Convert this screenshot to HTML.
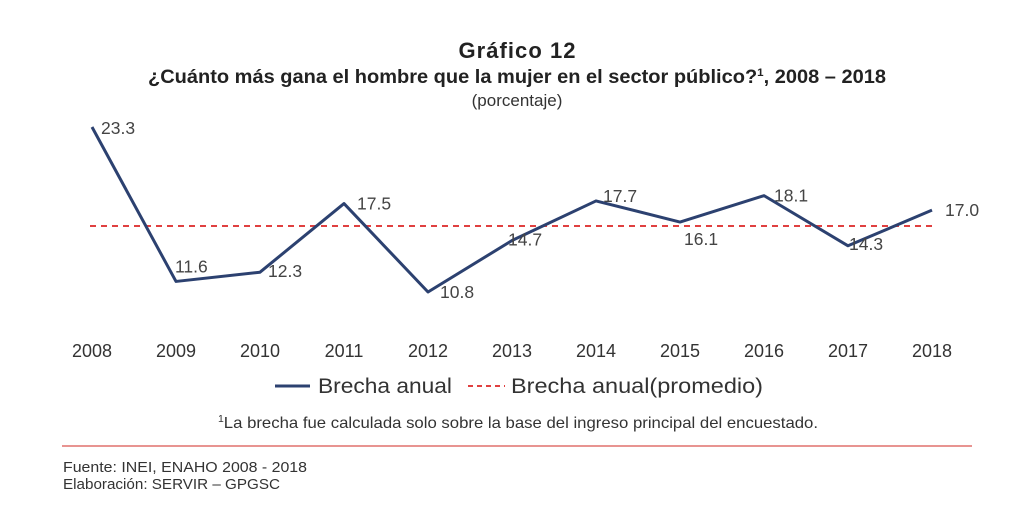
<!DOCTYPE html>
<html><head><meta charset="utf-8"><style>
body{margin:0;background:#fff;width:1034px;height:509px;overflow:hidden;font-family:"Liberation Sans",sans-serif;}
</style></head><body>
<svg width="1034" height="509" viewBox="0 0 1034 509" id="svg">
<text x="517" y="58" text-anchor="middle" font-size="22" font-weight="bold" fill="#222" textLength="117">Gráfico 12</text>
<text x="148" y="83" font-size="19" font-weight="bold" fill="#222" textLength="738" lengthAdjust="spacingAndGlyphs">¿Cuánto más gana el hombre que la mujer en el sector público?<tspan font-size="11" dy="-7">1</tspan><tspan dy="7">, 2008 – 2018</tspan></text>
<text x="517" y="106" text-anchor="middle" font-size="17" fill="#333">(porcentaje)</text>
<g id="marks"></g>
<line x1="275" y1="386" x2="310" y2="386" stroke="#2c4170" stroke-width="3"/>
<text x="318" y="393" font-size="21" fill="#333" textLength="134" lengthAdjust="spacingAndGlyphs">Brecha anual</text>
<line x1="468" y1="386" x2="505" y2="386" stroke="#e04040" stroke-width="2" stroke-dasharray="5,4"/>
<text x="511" y="393" font-size="21" fill="#333" textLength="252" lengthAdjust="spacingAndGlyphs">Brecha anual(promedio)</text>
<text x="218" y="428" font-size="16" fill="#333" textLength="600" lengthAdjust="spacingAndGlyphs"><tspan font-size="10" dy="-6">1</tspan><tspan dy="6">La brecha fue calculada solo sobre la base del ingreso principal del encuestado.</tspan></text>
<line x1="62" y1="446" x2="972" y2="446" stroke="#d9534f" stroke-width="1.2"/>
<text x="63" y="472" font-size="15" fill="#333" textLength="244" lengthAdjust="spacingAndGlyphs">Fuente: INEI, ENAHO 2008 - 2018</text>
<text x="63" y="489" font-size="15" fill="#333" textLength="217" lengthAdjust="spacingAndGlyphs">Elaboración: SERVIR – GPGSC</text>
</svg>
<script>
const years=["2008","2009","2010","2011","2012","2013","2014","2015","2016","2017","2018"];
const values=[23.3,11.6,12.3,17.5,10.8,14.7,17.7,16.1,18.1,14.3,17.0];
const average=15.8;
const labelDx=[9,-1,8,13,12,-4,7,4,10,1,13];
const labelDy=[7,-9,5,6,6,5,1,23,6,4,6];
const NS="http://www.w3.org/2000/svg";
const g=document.getElementById('marks');
const x=i=>92+i*84;
const y=v=>127+(23.3-v)*13.2;
function mk(t,a){const e=document.createElementNS(NS,t);for(const k in a)e.setAttribute(k,a[k]);g.appendChild(e);return e;}
const avg=mk('line',{x1:90,x2:932,y1:y(average),y2:y(average),stroke:'#e04040','stroke-width':2,'stroke-dasharray':'6,5'});


const p=mk('polyline',{points:values.map((v,i)=>x(i)+','+y(v)).join(' '),fill:'none',stroke:'#2c4170','stroke-width':3,'stroke-linejoin':'round'});


values.forEach((v,i)=>{
  const t=mk('text',{x:x(i)+labelDx[i],y:y(v)+labelDy[i],'font-size':17.5,fill:'#444'});
  t.textContent=v.toFixed(1);
  
  
  const a=mk('text',{x:x(i),y:357,'text-anchor':'middle','font-size':18,fill:'#333'});
  a.textContent=years[i];
  
  
});
</script>
</body></html>
